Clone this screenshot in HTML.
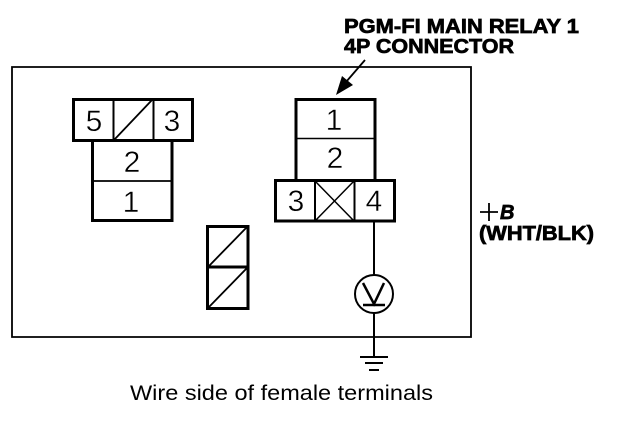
<!DOCTYPE html>
<html><head><meta charset="utf-8"><style>
html,body{margin:0;padding:0;background:#fff}
svg{display:block}
text{font-family:"Liberation Sans",sans-serif;fill:#000}
.n{font-size:30px;text-anchor:middle;stroke:#fff;stroke-width:.4px}
.b{font-weight:bold;font-size:20px;stroke:#000;stroke-width:.7px}
</style></head><body>
<svg width="624" height="424" viewBox="0 0 624 424" xmlns="http://www.w3.org/2000/svg">
<g fill="none" stroke="#000">
<path d="M12 67H471V337H12Z" stroke-width="1.800"/>
<!-- left connector -->
<path d="M73.500 99.500H192.500V140.500H73.500Z" stroke-width="3"/>
<path d="M113.500 99V140M153.500 99V140" stroke-width="2"/>
<path d="M114 140L152 100" stroke-width="1.800"/>
<path d="M92.500 140V220.500H172V140" stroke-width="3"/>
<path d="M92 181H172" stroke-width="1.800"/>
<!-- right connector -->
<path d="M296 180V99.500H375V180" stroke-width="3"/>
<path d="M296 138.500H375" stroke-width="1.500"/>
<path d="M275.500 180.500H394.500V221H275.500Z" stroke-width="3"/>
<path d="M315 180V221M354.500 180V221" stroke-width="2"/>
<path d="M315 181L354 221M354 181L315 221" stroke-width="1.500"/>
<!-- small -->
<path d="M207.500 226.500H248V308.500H207.500Z" stroke-width="3"/>
<path d="M207 267H248" stroke-width="3"/>
<path d="M208 267L247 227M208 308L247 268" stroke-width="1.800"/>
<!-- voltmeter line -->
<path d="M374 221V275M374 313V357" stroke-width="2"/>
<circle cx="374" cy="294" r="19" stroke-width="2"/>
<path d="M363 283L374 304L384 283" stroke-width="2.500"/>
<path d="M363 305H385" stroke-width="2.500"/>
<path d="M360 357H388" stroke-width="2"/>
<path d="M365 363H383M369 370H379" stroke-width="2"/>
<path d="M365 60L346 82" stroke-width="1.800"/>
<path d="M480 212H498M489 203V221" stroke-width="1.800"/>
</g>
<path d="M336 95L342 76L353 85Z" fill="#000"/>
<text class="n" x="94" y="131">5</text>
<text class="n" x="172" y="131">3</text>
<text class="n" x="132" y="172">2</text>
<text class="n" x="131" y="212">1</text>
<text class="n" x="334" y="130">1</text>
<text class="n" x="335" y="168">2</text>
<text class="n" x="296" y="211">3</text>
<text class="n" x="374" y="211">4</text>
<text class="b" x="344" y="33" textLength="235" lengthAdjust="spacingAndGlyphs">PGM-FI MAIN RELAY 1</text>
<text class="b" x="344" y="53" textLength="170" lengthAdjust="spacingAndGlyphs">4P CONNECTOR</text>
<text class="b" x="500" y="219" font-style="italic">B</text>
<text class="b" x="479" y="240" textLength="115" lengthAdjust="spacingAndGlyphs">(WHT/BLK)</text>
<text x="130" y="400" font-size="21" textLength="303" lengthAdjust="spacingAndGlyphs">Wire side of female terminals</text>
</svg>
</body></html>
